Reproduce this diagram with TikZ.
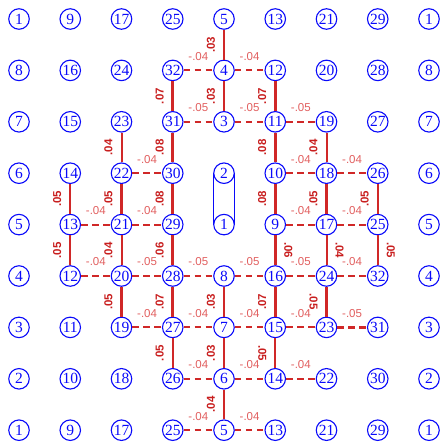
\documentclass[tikz,border=0pt]{standalone}
\usepackage{fontspec}
\setmainfont{Liberation Serif}
\setsansfont{Liberation Sans}
\definecolor{nodeblue}{RGB}{10,10,250}
\definecolor{edgered}{RGB}{208,40,40}
\definecolor{vlabred}{RGB}{200,30,30}
\definecolor{hlabred}{RGB}{225,95,95}
\begin{document}
\begin{tikzpicture}[x=1pt,y=-1pt,
  nd/.style={circle, draw=nodeblue, line width=1.1pt, text=nodeblue, inner sep=0pt,
    minimum size=20.5pt, font=\fontsize{15.5}{15.5}\selectfont},
  vedge/.style={draw=edgered},
  hedge/.style={draw=edgered, dash pattern=on 6.5pt off 4.5pt},
  vlab/.style={midway, text=vlabred, font=\fontsize{11.5}{11.5}\selectfont\sffamily\bfseries},
  labL/.style={vlab, xshift=-13pt, rotate=90},
  labR/.style={vlab, xshift=13pt, rotate=-90},
  labLr/.style={vlab, xshift=-13pt, rotate=-90},
  hlab/.style={midway, yshift=14pt, text=hlabred, font=\fontsize{11.5}{11.5}\selectfont\sffamily}
]
\useasboundingbox (0,0) rectangle (440,442);
% nodes
\foreach \row [count=\j] in {
  {1,9,17,25,5,13,21,29,1},
  {8,16,24,32,4,12,20,28,8},
  {7,15,23,31,3,11,19,27,7},
  {6,14,22,30,2,10,18,26,6},
  {5,13,21,29,1,9,17,25,5},
  {4,12,20,28,8,16,24,32,4},
  {3,11,19,27,7,15,23,31,3},
  {2,10,18,26,6,14,22,30,2},
  {1,9,17,25,5,13,21,29,1}}{
  \foreach \lab [count=\i] in \row {
    \node[nd] (n\i-\j) at ({19+51.25*(\i-1)},{19+51.4*(\j-1)}) {\lab};
  }
}
% capsule joining 2 and 1
\draw[nodeblue, line width=1.1pt] (n5-4.west) -- (n5-5.west) (n5-4.east) -- (n5-5.east);
% vertical edges, label on the left
\foreach \a/\b/\w in {
  n2-4/n2-5/5, n2-5/n2-6/5,
  n3-3/n3-4/4, n3-4/n3-5/5, n3-5/n3-6/4, n3-6/n3-7/5,
  n4-2/n4-3/7, n4-3/n4-4/8, n4-4/n4-5/8, n4-5/n4-6/6, n4-6/n4-7/7, n4-7/n4-8/5,
  n5-1/n5-2/3, n5-2/n5-3/3, n5-6/n5-7/3, n5-7/n5-8/3, n5-8/n5-9/4,
  n6-2/n6-3/7, n6-3/n6-4/8, n6-4/n6-5/8, n6-6/n6-7/7,
  n7-3/n7-4/4, n7-4/n7-5/5,
  n8-4/n8-5/5}{
  \draw[vedge, line width=0.8pt+0.3pt*\w] (\a) -- node[labL] {.0\w} (\b);
}
% vertical edges, label on the left, reading downwards
\foreach \a/\b/\w in {n6-7/n6-8/5, n7-6/n7-7/5}{
  \draw[vedge, line width=0.8pt+0.3pt*\w] (\a) -- node[labLr] {.0\w} (\b);
}
% vertical edges, label on the right
\foreach \a/\b/\w in {n6-5/n6-6/6, n7-5/n7-6/4, n8-5/n8-6/5}{
  \draw[vedge, line width=0.8pt+0.3pt*\w] (\a) -- node[labR] {.0\w} (\b);
}
% horizontal dashed edges
\foreach \a/\b/\w in {
  n4-2/n5-2/4, n5-2/n6-2/4,
  n4-3/n5-3/5, n5-3/n6-3/5, n6-3/n7-3/5,
  n3-4/n4-4/4, n6-4/n7-4/4, n7-4/n8-4/4,
  n2-5/n3-5/4, n3-5/n4-5/4, n6-5/n7-5/4, n7-5/n8-5/4,
  n2-6/n3-6/4, n3-6/n4-6/5, n4-6/n5-6/5, n5-6/n6-6/5, n6-6/n7-6/5, n7-6/n8-6/4,
  n3-7/n4-7/4, n4-7/n5-7/4, n5-7/n6-7/4, n6-7/n7-7/4, n7-7/n8-7/5,
  n4-8/n5-8/4, n5-8/n6-8/4, n6-8/n7-8/4,
  n4-9/n5-9/4, n5-9/n6-9/4}{
  \draw[hedge, line width=0.8pt+0.3pt*\w] (\a) -- node[hlab] {-.0\w} (\b);
}
\end{tikzpicture}
\end{document}
